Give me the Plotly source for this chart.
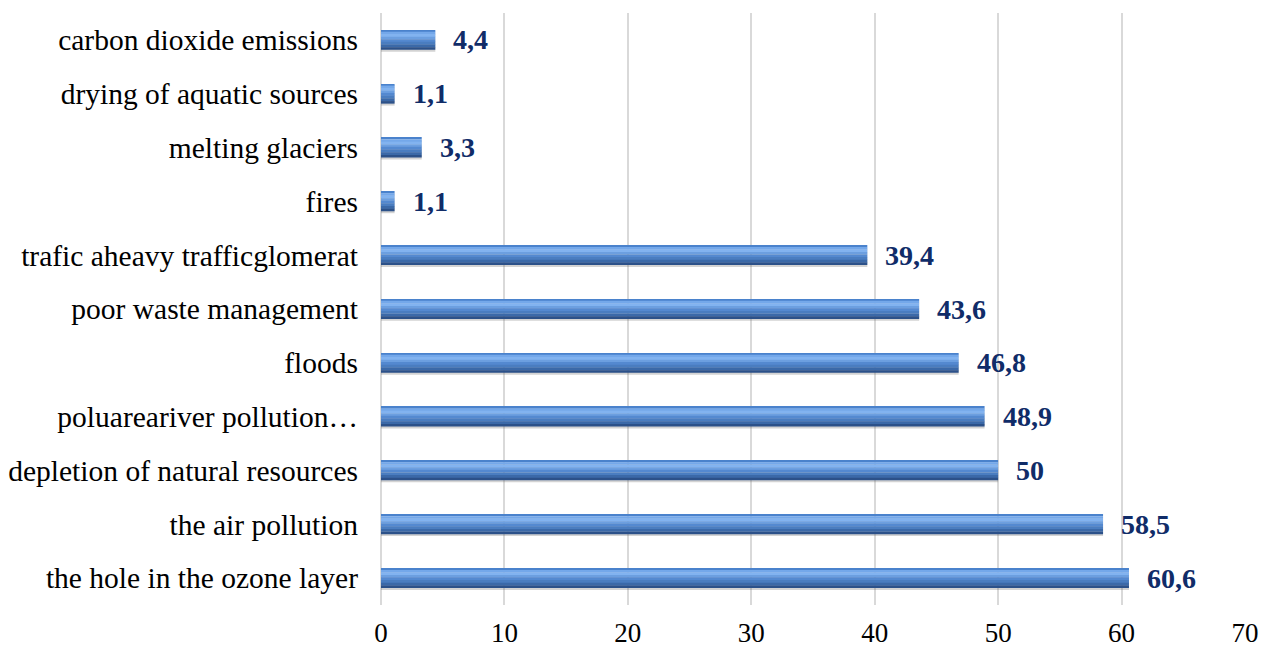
import plotly.graph_objects as go

categories = [
    "carbon dioxide emissions",
    "drying of aquatic sources",
    "melting glaciers",
    "fires",
    "trafic aheavy trafficglomerat",
    "poor waste management",
    "floods",
    "poluareariver pollution…",
    "depletion of natural resources",
    "the air pollution",
    "the hole in the ozone layer",
]
values = [4.4, 1.1, 3.3, 1.1, 39.4, 43.6, 46.8, 48.9, 50, 58.5, 60.6]
labels = [f"{v:g}".replace(".", ",") for v in values]

FONT = "Liberation Serif, Times New Roman, serif"
BW = 0.36

fig = go.Figure()

# shadow
fig.add_trace(go.Bar(
    y=categories, x=values, orientation="h", width=BW, offset=-BW / 2 + 0.04,
    marker=dict(color="rgba(110,110,110,0.30)", line=dict(width=0)),
    hoverinfo="skip", showlegend=False,
))
# gradient bands (top -> bottom on screen; axis reversed so larger offset is lower)
bands = [
    (0.00, 0.08, "#4a82cc"),
    (0.08, 0.20, "#74a8ea"),
    (0.20, 0.34, "#82b3f0"),
    (0.34, 0.46, "#6c9fe0"),
    (0.46, 0.60, "#5489d0"),
    (0.60, 0.74, "#4a7dc0"),
    (0.74, 0.88, "#3b69a8"),
    (0.88, 1.00, "#2c5189"),
]
for a, b, c in bands:
    fig.add_trace(go.Bar(
        y=categories, x=values, orientation="h",
        width=BW * (b - a) + 0.004, offset=-BW / 2 + BW * a,
        marker=dict(color=c, line=dict(width=0)),
        hoverinfo="skip", showlegend=False,
    ))

for cat, v, t in zip(categories, values, labels):
    fig.add_annotation(
        x=v, y=cat, text=f"<b>{t}</b>", showarrow=False,
        xanchor="left", yanchor="middle", xshift=16,
        font=dict(family=FONT, size=28, color="#102c68"),
    )

fig.update_layout(
    barmode="overlay",
    width=1271, height=654,
    margin=dict(l=381, r=26, t=13, b=49, autoexpand=False),
    paper_bgcolor="white", plot_bgcolor="white",
    font=dict(family=FONT, color="black"),
    xaxis=dict(
        range=[0, 70], dtick=10, showgrid=True, gridcolor="#d9d9d9", gridwidth=1.5,
        zeroline=True, zerolinecolor="#d9d9d9", zerolinewidth=1.5,
        showline=False, ticks="", tickfont=dict(size=27, family=FONT, color="black"),
        ticklabelstandoff=9, automargin=False, fixedrange=True,
    ),
    yaxis=dict(
        autorange="reversed", showgrid=False, showline=False, ticks="",
        tickfont=dict(size=29.5, family=FONT, color="black"), ticklabelstandoff=22,
        automargin=False, fixedrange=True,
    ),
)

fig.write_html(
    "out.html",
    config={"displayModeBar": False},
    post_script="document.body.style.margin='0';document.body.style.overflow='hidden';",
)
